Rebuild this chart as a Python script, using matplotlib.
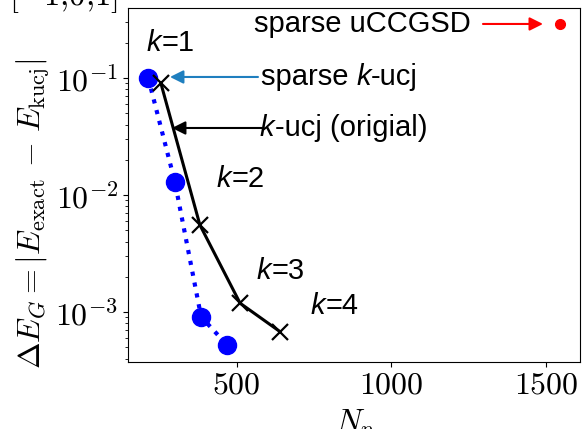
import matplotlib
matplotlib.use("Agg")
import matplotlib.pyplot as plt
import numpy as np

plt.rcParams['mathtext.fontset'] = 'cm'
plt.rcParams['font.family'] = 'serif'
plt.rcParams['font.serif'] = ['cmr10', 'DejaVu Serif']
plt.rcParams['axes.formatter.use_mathtext'] = True

# data
sparse_kucj_Np = [214, 300, 385, 470]
sparse_kucj_dE = [0.100, 0.0130, 9.1e-4, 5.2e-4]
kucj_Np = [255, 381, 511, 640]
kucj_dE = [0.090, 0.00555, 1.19e-3, 6.8e-4]
uccgsd_Np = [1545]
uccgsd_dE = [0.288]
k_values = ["1", "2", "3", "4"]

W, H = 582, 429
fig = plt.figure(figsize=(W / 100, H / 100), dpi=100)
ax = fig.add_axes([128 / W, 1 - 362 / H, (580 - 128) / W, (362 - 8) / H])

ax.plot(sparse_kucj_Np, sparse_kucj_dE, linestyle=':', color='blue', lw=3.0,
        marker='o', ms=13, zorder=3)
ax.plot(kucj_Np, kucj_dE, linestyle='-', color='black', lw=2.2,
        marker='x', ms=12, mew=1.6, zorder=3)
ax.plot(uccgsd_Np, uccgsd_dE, linestyle='none', color='red', marker='o', ms=7)

ax.set_yscale('log')
ax.set_xlim(148.6, 1610)
ax.set_ylim(10 ** -3.427, 10 ** -0.402)
ax.set_xticks([500, 1000, 1500])
ax.tick_params(labelsize=23)
ax.set_xlabel('$N_p$', fontsize=23, labelpad=6)
ax.set_ylabel('$\\Delta E_G = |E_{\\rm exact}\\,-\\,E_{\\rm kucj}|$', fontsize=23)
ax.yaxis.set_label_coords(-0.168, 0.42)

# pixel -> data helpers for annotation placement
def px(x):
    return 500 + (x - 236.7) / 0.3093

def py(y):
    return 10 ** (-1 - (y - 78) / 117)

SANS = ['Liberation Sans', 'DejaVu Sans']
fs = 21

def rich(x, y, parts):
    prev = None
    for s, style in parts:
        if prev is None:
            prev = ax.text(x, y, s, fontsize=fs, family=SANS, style=style,
                           ha='left', va='center')
        else:
            prev = ax.annotate(s, xy=(1, 0), xycoords=prev, fontsize=fs,
                               family=SANS, style=style, ha='left', va='bottom')
    return prev

def arrow(tip, tail, color, shrinkA=0):
    ax.annotate('', xy=tip, xytext=tail,
                arrowprops=dict(arrowstyle='-|>', color=color, lw=1.5,
                                mutation_scale=20, shrinkA=shrinkA, shrinkB=0))

ax.text(px(471), py(24), 'sparse uCCGSD', fontsize=fs, family=SANS,
        ha='right', va='center')
arrow((px(543), py(24)), (px(483), py(24)), 'red')

rich(px(261), py(77), [('sparse ', 'normal'), ('k', 'italic'), ('-ucj', 'normal')])
arrow((px(170), py(77)), (px(258), py(77)), '#1f7fbf')

rich(px(260), py(128), [('k', 'italic'), ('-ucj (origial)', 'normal')])
arrow((px(172), py(128)), (px(262), py(128)), 'black')

k_pos_x = [147, 217, 257, 311]
k_pos_y = [43, 179, 271, 306]
for kv, x, y in zip(k_values, k_pos_x, k_pos_y):
    rich(px(x), py(y), [('k', 'italic'), ('=' + kv, 'normal')])

fig.text(118 / W, 1 - 5.5 / H, '$\\theta = [-1{,}0{,}1]$', fontsize=23.5,
         ha='right', va='baseline')

fig.savefig('out.png', dpi=100)
